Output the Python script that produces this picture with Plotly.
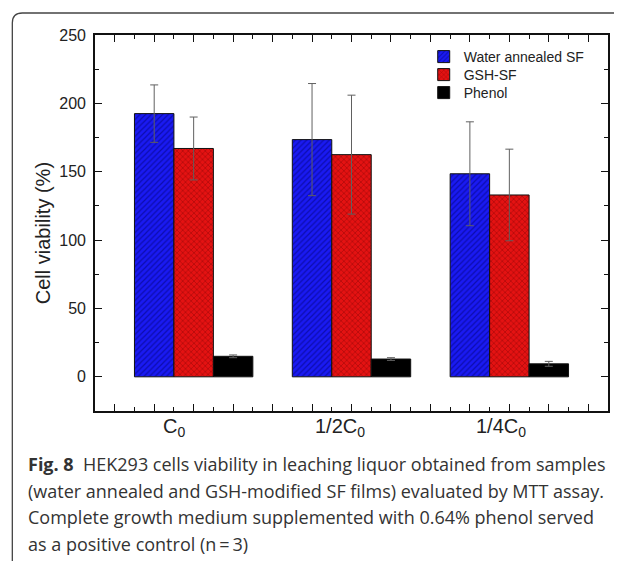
import plotly.graph_objects as go

# ---- data ----
categories = ["C<sub>0</sub>", "1/2C<sub>0</sub>", "1/4C<sub>0</sub>"]
water = [192.5, 173.5, 148.5]
water_err = [21, 41, 38]
gsh = [167, 162.5, 133]
gsh_err = [23, 43.5, 33.5]
phenol = [15, 13, 9.5]
phenol_err = [1, 1, 1.8]

series_names = ["Water annealed SF", "GSH-SF", "Phenol"]

OFF = 8  # browser default body margin
W, H = 622 - OFF, 561 - OFF
L, R, T, B = 95 - OFF, 12, 35 - OFF, 150
PW, PH = W - L - R, H - T - B

def px(x):
    return (x - OFF - L) / PW

def py(y):
    return 1 - (y - OFF - T) / PH

group_x = [3 + 4 * i for i in range(len(categories))]
label_x = [2.5, 6.7, 10.8]

err_style = dict(type="data", color="#606060", thickness=1, width=4)
arial = "Arial, Liberation Sans, sans-serif"

fig = go.Figure()
fig.add_trace(go.Bar(
    x=group_x, y=water, name=series_names[0], legend="legend",
    error_y=dict(array=water_err, **err_style),
    marker=dict(color="#1818f0", line=dict(color="#111111", width=1),
                pattern=dict(shape="/", fgcolor="#00006a", bgcolor="#1a1af2", size=4, solidity=0.3)),
))
fig.add_trace(go.Bar(
    x=group_x, y=gsh, name=series_names[1], legend="legend2",
    error_y=dict(array=gsh_err, **err_style),
    marker=dict(color="#e01010", line=dict(color="#111111", width=1),
                pattern=dict(shape="x", fgcolor="#6a0000", bgcolor="#e41212", size=4, solidity=0.3)),
))
fig.add_trace(go.Bar(
    x=group_x, y=phenol, name=series_names[2], legend="legend3",
    error_y=dict(array=phenol_err, **err_style),
    marker=dict(color="#000000", line=dict(color="#111111", width=1)),
))

axis_font = dict(family=arial, size=16, color="#222222")

def leg(yc):
    return dict(x=px(425), y=py(yc), xanchor="left", yanchor="middle",
                font=dict(family=arial, size=14, color="#222222"),
                bgcolor="rgba(0,0,0,0)", itemwidth=30)

fig.update_layout(
    width=W, height=H,
    margin=dict(l=L, r=R, t=T, b=B),
    paper_bgcolor="white", plot_bgcolor="white",
    barmode="group", bargap=0.25, bargroupgap=0,
    font=axis_font,
    showlegend=True,
    legend=leg(57), legend2=leg(75), legend3=leg(93),
    xaxis=dict(range=[0.5, 13.5], tickmode="array", tickvals=list(range(1, 14)),
               ticktext=[""] * 13, ticks="inside", ticklen=7, tickwidth=1.3, tickcolor="#111",
               minor=dict(ticks="inside", ticklen=4, tickwidth=1.2, dtick=0.5, tick0=0.5, tickcolor="#111"),
               showline=True, linecolor="#111", linewidth=1.6, mirror="allticks",
               showgrid=False, zeroline=False, fixedrange=True),
    yaxis=dict(range=[-25, 250], tickmode="linear", tick0=0, dtick=50,
               ticks="inside", ticklen=7, tickwidth=1.3, tickcolor="#111",
               minor=dict(ticks="inside", ticklen=4, tickwidth=1.2, dtick=25, tick0=0, tickcolor="#111"),
               showline=True, linecolor="#111", linewidth=1.6, mirror="allticks",
               showgrid=False, zeroline=False, tickfont=axis_font, ticklabelstandoff=4),
)

# y-axis title
fig.add_annotation(x=px(43), y=py(233), xref="paper", yref="paper", text="Cell viability (%)",
                   textangle=-90, showarrow=False, xanchor="center", yanchor="middle",
                   font=dict(family=arial, size=20, color="#222222"))

# category labels
for xv, txt in zip(label_x, categories):
    fig.add_annotation(x=xv, y=py(413), xref="x", yref="paper", text=txt, showarrow=False,
                       xanchor="center", yanchor="top",
                       font=dict(family=arial, size=20, color="#222222"))

# caption
cap_font = dict(family="Open Sans, Noto Sans, sans-serif", size=18, color="#333333")
caption_lines = [
    "<b>Fig. 8</b>&nbsp;&nbsp;HEK293 cells viability in leaching liquor obtained from samples",
    "(water annealed and GSH-modified SF films) evaluated by MTT assay.",
    "Complete growth medium supplemented with 0.64% phenol served",
    "as a positive control (n\u2009=\u20093)",
]
for i, line in enumerate(caption_lines):
    fig.add_annotation(x=px(26), y=py(464 + 26.7 * i), xref="paper", yref="paper", text=line,
                       showarrow=False, xanchor="left", yanchor="middle", font=cap_font)

# frame
x0, y0, r = 12, 13, 10
path = (f"M {px(x0)} {py(565)} L {px(x0)} {py(y0 + r)} "
        f"Q {px(x0)} {py(y0)} {px(x0 + r)} {py(y0)} L {px(626)} {py(y0)}")
fig.add_shape(type="path", path=path, xref="paper", yref="paper",
              line=dict(color="#444444", width=1.3))

fig.write_html("out.html")
